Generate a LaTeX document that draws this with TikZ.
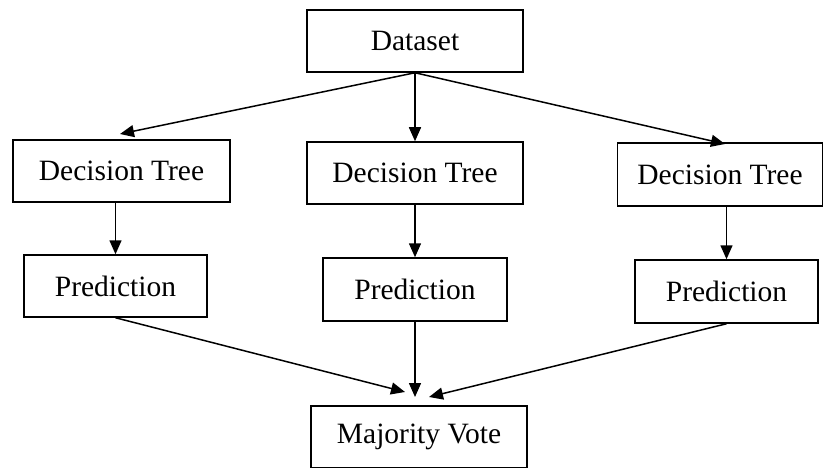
\documentclass[tikz,border=0pt]{standalone}
\usepackage{fontspec}
\setmainfont{Liberation Serif}
\usetikzlibrary{arrows.meta}
\begin{document}
\begin{tikzpicture}[x=1pt,y=-1pt,
  box/.style={draw=black, line width=1.5pt, inner sep=0pt, font=\fontsize{29.5}{33}\selectfont},
  arr/.style={draw=black, line width=1.5pt, -{Triangle[length=14pt,width=12pt]}}]
\useasboundingbox (0,0) rectangle (825,468);

% boxes: centre, width, height
\node[box, minimum width=216pt, minimum height=62pt] (ds)  at (415,41)   {Dataset};
\node[box, minimum width=217pt, minimum height=62pt] (dt1) at (121.5,171) {Decision Tree};
\node[box, minimum width=216pt, minimum height=62pt] (dt2) at (415,173)  {Decision Tree};
\node[box, minimum width=205pt, minimum height=63pt] (dt3) at (720,174.5) {Decision Tree};
\node[box, minimum width=183pt, minimum height=62pt] (p1)  at (115.5,286) {Prediction};
\node[box, minimum width=184pt, minimum height=63pt] (p2)  at (415,289.5) {Prediction};
\node[box, minimum width=183pt, minimum height=63pt] (p3)  at (726.5,291.5) {Prediction};
\node[box, minimum width=216pt, minimum height=62pt] (mv)  at (419,437)  {Majority Vote};

% arrow end points just above the target boxes
\coordinate (e1) at (120,134);
\coordinate (e3) at (725,144);
\coordinate (v1) at (405,392);
\coordinate (v2) at (415,397);
\coordinate (v3) at (429,397);

% dataset to the three trees
\draw[arr] (ds.south) -- (e1);
\draw[arr] (ds.south) -- (dt2.north);
\draw[arr] (ds.south) -- (e3);

% trees to predictions
\draw[arr] (p1.north |- dt1.south) -- (p1.north);
\draw[arr] (p2.north |- dt2.south) -- (p2.north);
\draw[arr] (p3.north |- dt3.south) -- (p3.north);

% predictions to the vote
\draw[arr] (p1.south) -- (v1);
\draw[arr] (p2.south) -- (v2);
\draw[arr] (p3.south) -- (v3);
\end{tikzpicture}
\end{document}
